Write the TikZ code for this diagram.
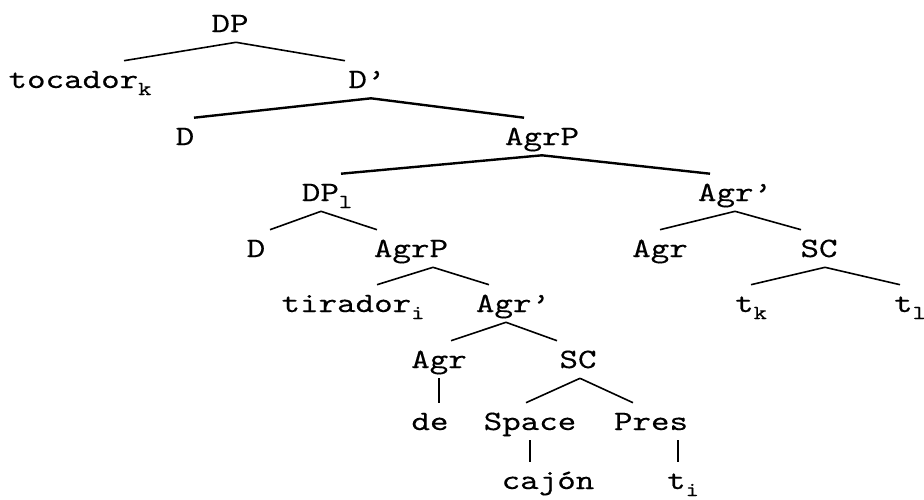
\documentclass[tikz,border=0pt]{standalone}
\usepackage{fontspec}
\newfontfamily\treefont{lmmono10-regular.otf}[FakeStretch=1.26,FakeBold=0.3]
\newcommand\ix[1]{\raisebox{-3.5pt}{\fontsize{10}{10}\selectfont #1}}

\begin{document}
\begin{tikzpicture}[x=0.5pt,y=-0.5pt,line width=0.8pt,
    every node/.style={anchor=base,font=\fontsize{14}{15}\treefont,
      text height=8.5pt,text depth=0pt,inner xsep=0pt,inner ysep=4.75pt}]
    \useasboundingbox (0,0) rectangle (924,499);

    \node (dp) at (230,32) {DP};
    \node (toc) at (80,88) {tocador\ix{k}};
    \node (dbar) at (367,88) {D’};
    \node (d1) at (185,145) {D};
    \node (agrp1) at (542,145) {AgrP};
    \node (dpl) at (327,201) {DP\ix{l}};
    \node (agrbar1) at (735,201) {Agr’};
    \node (d2) at (256,257) {D};
    \node (agrp2) at (411,257) {AgrP};
    \node (agr1) at (660,257) {Agr};
    \node (sc1) at (819,257) {SC};
    \node (tir) at (353,312) {tirador\ix{i}};
    \node (agrbar2) at (513,312) {Agr’};
    \node (tk) at (751,312) {t\ix{k}};
    \node (tl) at (910,312) {t\ix{l}};
    \node (agr2) at (439,368) {Agr};
    \node (sc2) at (578,368) {SC};
    \node (de) at (430,430) {de};
    \node (space) at (530,430) {Space};
    \node (pres) at (651,430) {Pres};
    \node (caj) at (548,489) {cajón};
    \node (ti) at (683,489) {t\ix{i}};

    \draw ([xshift=3pt]dp.south) -- ([xshift=22pt]toc.north);
    \draw ([xshift=3pt]dp.south) -- ([xshift=-11pt]dbar.north);
    \draw[very thick] ([xshift=2pt]dbar.south) -- ([xshift=4.5pt]d1.north);
    \draw[very thick] ([xshift=2pt]dbar.south) -- ([xshift=-9pt]agrp1.north);
    \draw[very thick] (agrp1.south) -- ([xshift=7pt]dpl.north);
    \draw[very thick] (agrp1.south) -- ([xshift=-12.5pt]agrbar1.north);
    \draw ([xshift=-3pt]dpl.south) -- ([xshift=7pt]d2.north);
    \draw ([xshift=-3pt]dpl.south) -- ([xshift=-17pt]agrp2.north);
    \draw (agrbar1.south) -- (agr1.north);
    \draw (agrbar1.south) -- ([xshift=-9pt]sc1.north);
    \draw ([xshift=11pt]agrp2.south) -- ([xshift=12pt]tir.north);
    \draw ([xshift=11pt]agrp2.south) -- ([xshift=-12pt]agrbar2.north);
    \draw ([xshift=3pt]sc1.south) -- (tk.north);
    \draw ([xshift=3pt]sc1.south) -- ([xshift=-5pt]tl.north);
    \draw ([xshift=-3.5pt]agrbar2.south) -- ([xshift=6pt]agr2.north);
    \draw ([xshift=-3.5pt]agrbar2.south) -- ([xshift=-10.5pt]sc2.north);
    \draw (agr2.south) -- (agr2.south |- de.north);
    \draw ([xshift=1pt]sc2.south) -- ([xshift=-2pt]space.north);
    \draw ([xshift=1pt]sc2.south) -- ([xshift=-9pt]pres.north);
    \draw (space.south) -- (space.south |- caj.north);
    \draw ([xshift=-2.5pt]ti.north |- pres.south) -- ([xshift=-2.5pt]ti.north);
\end{tikzpicture}
\end{document}
